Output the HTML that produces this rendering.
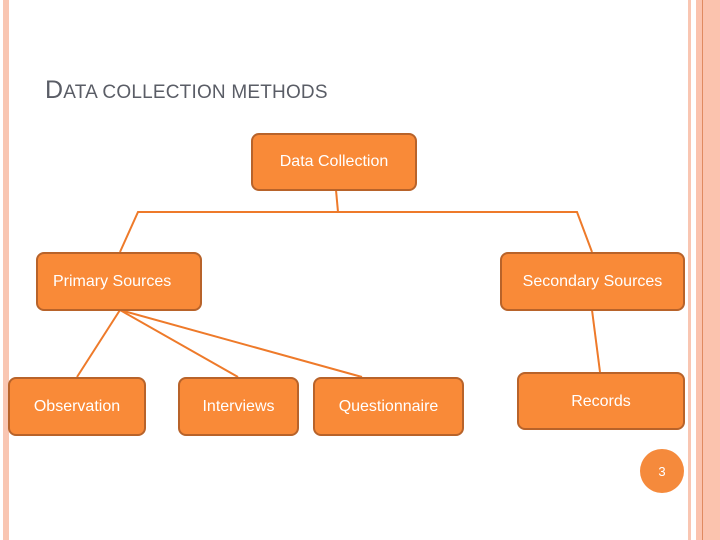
<!DOCTYPE html>
<html><head><meta charset="utf-8"><style>
body{margin:0;width:720px;height:540px;background:#fff;position:relative;overflow:hidden;font-family:"Liberation Sans",sans-serif}
.s{position:absolute;top:0;height:540px;background:#F9C6B2}
.b{position:absolute;box-sizing:border-box;background:#F98A38;border:2.5px solid #B8632A;border-radius:8px;color:#fff;font-size:16px;display:flex;align-items:center;justify-content:center}
</style></head><body>
<div class="s" style="left:3px;width:6px"></div>
<div class="s" style="left:688px;width:3px"></div>
<div class="s" style="left:696px;width:24px;background:#FBC3AE"></div>
<div class="s" style="left:702px;width:1px;background:#E08A60"></div>
<div style="position:absolute;left:45px;top:76px;color:#5a5d66;font-size:19px;letter-spacing:0.2px"><span style="font-size:25px">D</span>ATA COLLECTION METHODS</div>
<svg style="position:absolute;left:0;top:0" width="720" height="540">
<g stroke="#EE7A2A" stroke-width="2" fill="none">
<polyline points="336,190 338,212"/>
<polyline points="120,252 138,212 577,212 592,252"/>
<line x1="120" y1="310" x2="77" y2="377"/>
<line x1="120" y1="310" x2="238" y2="377"/>
<line x1="120" y1="310" x2="362" y2="377"/>
<line x1="592" y1="310" x2="600" y2="372"/>
</g>
<circle cx="662" cy="471" r="22" fill="#F58A3C"/>
<text x="662" y="476" fill="#fff" font-size="13" text-anchor="middle" font-family="Liberation Sans">3</text>
</svg>
<div class="b" style="left:251px;top:133px;width:166px;height:58px">Data Collection</div>
<div class="b" style="left:36px;top:252px;width:166px;height:59px;padding-right:0;justify-content:flex-start;padding-left:15px">Primary Sources</div>
<div class="b" style="left:500px;top:252px;width:185px;height:59px">Secondary Sources</div>
<div class="b" style="left:8px;top:377px;width:138px;height:59px">Observation</div>
<div class="b" style="left:178px;top:377px;width:121px;height:59px">Interviews</div>
<div class="b" style="left:313px;top:377px;width:151px;height:59px">Questionnaire</div>
<div class="b" style="left:517px;top:372px;width:168px;height:58px;align-items:flex-start;padding-top:19px">Records</div>
</body></html>
